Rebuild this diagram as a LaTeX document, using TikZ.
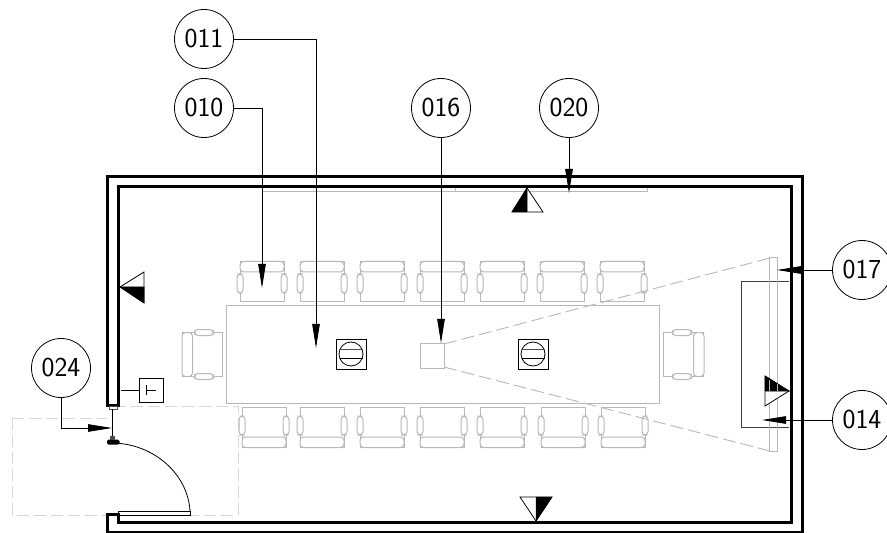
\documentclass[tikz,border=0pt]{standalone}
\usetikzlibrary{arrows.meta}
\definecolor{fur}{gray}{0.72}
\definecolor{zonegray}{gray}{0.84}
\tikzset{x=1bp,y=-1bp,
 tag/.style={circle,draw=black,line width=0.8bp,fill=white,minimum size=59bp,inner sep=0pt,font=\sffamily\fontsize{27.5}{27.5}\selectfont},
 lead/.style={draw=black,line width=0.8bp,-{Triangle[length=24bp,width=7.5bp]}},
 wall/.style={draw=black,line width=3bp,line join=miter},
 furn/.style={draw=fur,line width=1bp},
 pad/.style={draw=fur,line width=1bp,rounded corners=3.5bp,fill=white},
 sec/.style={draw=black,line width=0.8bp,fill=white},
 secfill/.style={fill=black,draw=black,line width=0.5bp},
 fine/.style={draw=black,line width=0.8bp},
 zone/.style={draw=zonegray,dash pattern=on 12bp off 5bp,line width=0.9bp},
 beam/.style={draw=fur,dash pattern=on 13bp off 5bp,line width=0.9bp},
 chair/.pic={
  \draw[furn] (-22,-20) rectangle (22,20);
  \draw[pad] (-22,10) rectangle (22,20.5);
  \draw[pad] (-25,-11) rectangle (-19,8);
  \draw[pad] (19,-11) rectangle (25,8);
 },
 socket/.pic={
  \draw[fine,line width=1bp] (-15,-15) rectangle (15,15);
  \draw[fine] (0,0) circle (12);
  \draw[draw=black!70,line width=1bp] (-11.5,-4.5) -- (11.5,-4.5);
  \draw[fine] (-11.5,4.5) -- (11.5,4.5);
 }
}
\begin{document}
\begin{tikzpicture}
\useasboundingbox (0,0) rectangle (887,533);
\fill[white] (0,0) rectangle (887,533);
% door swing zone
\draw[zone] (12,418) -- (12,515) -- (238,515) -- (238,406) -- (114,406);
\draw[zone] (12,418) -- (107,418);
% table
\draw[furn] (226.5,306) rectangle (659.5,403);
% chairs
\foreach \x in {262,322,382,442,502,562,622}{
  \pic[yscale=-1] at (\x,282) {chair};
}
\foreach \x in {264,322,382,442,502,563,623}{
  \pic at (\x,427) {chair};
}
\pic[rotate=90] at (683.5,354.5) {chair};
\pic[rotate=-90] at (202.5,354.5) {chair};
% window
\draw[furn] (262,188) -- (262,192) -- (647,192) -- (647,188);
\draw[furn] (455,188) -- (455,192);
% projector and beam
\draw[furn] (420,343) rectangle (444,368);
\draw[beam] (444,344) -- (770,258);
\draw[beam] (444,367) -- (770,451);
% sockets
\pic at (351,354) {socket};
\pic at (533,354) {socket};
% cabinet
\draw[draw=black!75,line width=1bp] (789,282) -- (741,282) -- (741,427) -- (789,427);
% screen
\draw[furn] (769.5,258) rectangle (777.5,451);
% walls
\draw[wall] (107.5,405) -- (107.5,177) -- (802,177) -- (802,532) -- (107.5,532) -- (107.5,514.5) -- (118,514.5) -- (118,522) -- (791,522) -- (791,187) -- (118.5,187) -- (118.5,405) -- cycle;
% door
\draw[draw=black!70,line width=0.8bp] (109,406) rectangle (117,409);
\draw[fine,line width=1bp] (112,409) -- (112,437);
\fill[black,rounded corners=1.5bp] (107,439.5) rectangle (119.5,444.5);
\fill[black!70] (109.5,436) rectangle (114.5,440);
\draw[fine] (113,443) .. controls (155,444) and (188,475) .. (190,511);
\draw[fine] (118,511) rectangle (190,515);
% thermostat
\node[draw=black,line width=0.8bp,minimum size=24bp,inner sep=0pt] (tbox) at (151,390) {};
\coordinate (twall) at (121,390);
\draw[fine] (twall) -- (tbox.west);
\draw[fine] (146,385) -- (146,395) (146,390) -- (156,390);
% section marks
\draw[sec] (527,188) -- (543,212) -- (512,212) -- cycle;
\fill[secfill] (527,188) -- (527,212) -- (512,212) -- cycle;
\draw[sec] (120,287) -- (144,272) -- (144,303) -- cycle;
\fill[secfill] (120,287) -- (144,287) -- (144,303) -- cycle;
\draw[sec] (536,521) -- (520,497) -- (552,497) -- cycle;
\fill[secfill] (536,521) -- (536,497) -- (552,497) -- cycle;
\draw[sec] (789,391) -- (765,376) -- (765,406) -- cycle;
\fill[secfill] (789,391) -- (765,391) -- (765,376) -- cycle;
\draw[draw=fur,line width=0.6bp] (769.5,380) -- (769.5,391) (777.5,384) -- (777.5,391);
% tags
\node[tag] (t011) at (204,39) {011};
\node[tag] (t010) at (204,108) {010};
\node[tag] (t016) at (441,108) {016};
\node[tag] (t020) at (569,108) {020};
\node[tag] (t017) at (862,270) {017};
\node[tag] (t014) at (862,420) {014};
\node[tag] (t024) at (61,368) {024};
% leaders
\coordinate (e011) at (316,348);
\coordinate (e010) at (262,288);
\coordinate (e016) at (441,343);
\coordinate (e020) at (569,193);
\coordinate (e017) at (777,270);
\coordinate (e014) at (762,420);
\coordinate (e024) at (112,428);
\draw[lead] (t011.east) -| (e011);
\draw[lead] (t010.east) -| (e010);
\draw[lead] (t016.south) -- (e016);
\draw[lead] (t020.south) -- (e020);
\draw[lead] (t017.west) -- (e017);
\draw[lead] (t014.west) -- (e014);
\draw[lead] (t024.south) |- (e024);
\end{tikzpicture}
\end{document}
